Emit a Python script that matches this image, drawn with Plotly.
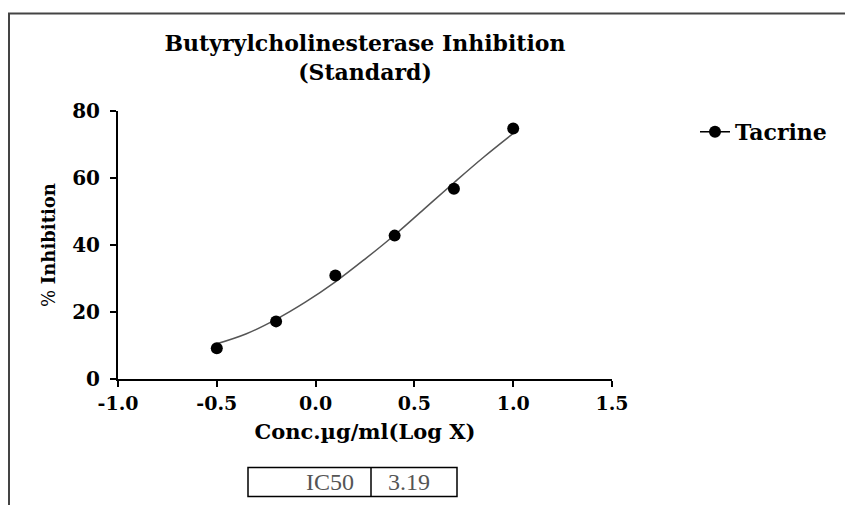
import plotly.graph_objects as go

# ---- data ----
conc_log = [-0.5, -0.2, 0.1, 0.4, 0.7, 1.0]
inhibition = [9.2, 17.2, 30.9, 42.8, 56.8, 74.8]

fit_x = [-0.5, -0.35, -0.2, -0.05, 0.1, 0.25, 0.4, 0.55, 0.7, 0.85, 1.0]
fit_y = [10.5, 13.5, 17.8, 23.0, 29.0, 35.8, 43.0, 50.8, 58.6, 66.2, 73.3]

x_tickvals = [-1.0, -0.5, 0.0, 0.5, 1.0, 1.5]
x_ticktext = ["-1.0", "-0.5", "0.0", "0.5", "1.0", "1.5"]
y_tickvals = [0, 20, 40, 60, 80]

series_name = "Tacrine"
ic50_label = "IC50"
ic50_value = "3.19"

BOLD = "DejaVu Serif"
SERIF = "Liberation Serif"

fig = go.Figure()

fig.add_trace(go.Scatter(
    x=fit_x, y=fit_y, mode="lines", line=dict(color="#555555", width=1.5, shape="spline"),
    showlegend=False, legendgroup="t", hoverinfo="skip"))
fig.add_trace(go.Scatter(
    x=conc_log, y=inhibition, mode="markers",
    marker=dict(color="black", size=12), showlegend=False, legendgroup="t"))
# legend entry (symbol + line as in reference)
fig.add_trace(go.Scatter(
    x=[None], y=[None], mode="lines+markers", name=series_name,
    line=dict(color="black", width=1.5), marker=dict(color="black", size=12),
    legendgroup="t"))

OFF = 8  # page body margin
W, H = 853 - OFF, 505 - OFF
# plot area in screen pixels: x 118..612, y 111..379.3
L = 118 - OFF
T = 111 - OFF
R = W - (612 - OFF)
B = H - (379.3 - OFF)
pw, ph = W - L - R, H - T - B


def px(xs):
    return (xs - OFF - L) / pw


def py(ys):
    return (H - B - (ys - OFF)) / ph


fig.update_layout(
    width=W, height=H,
    margin=dict(l=L, r=R, t=T, b=B),
    paper_bgcolor="white", plot_bgcolor="white",
    title=dict(text="Butyrylcholinesterase Inhibition<br>(Standard)",
               x=0.5, xref="paper", xanchor="center",
               y=1 - 43 / H, yref="container", yanchor="top",
               font=dict(family=BOLD, size=22, color="black", weight="bold")),
    legend=dict(x=px(695), y=py(132), xanchor="left", yanchor="middle",
                font=dict(family=BOLD, size=22, color="black", weight="bold"),
                bgcolor="rgba(0,0,0,0)"),
    showlegend=True,
    xaxis=dict(range=[-1, 1.5], tickvals=x_tickvals, ticktext=x_ticktext,
               showgrid=False, zeroline=False, showline=True, linecolor="black", linewidth=2,
               ticks="outside", ticklen=6, tickwidth=2, tickcolor="black",
               tickfont=dict(family=BOLD, size=19, color="black", weight="bold"),
               title=dict(text="Conc.µg/ml(Log X)", standoff=12,
                          font=dict(family=BOLD, size=21, color="black", weight="bold"))),
    yaxis=dict(range=[0, 80], tickvals=y_tickvals,
               showgrid=False, zeroline=False, showline=True, linecolor="black", linewidth=2,
               ticks="outside", ticklen=6, tickwidth=2, tickcolor="black",
               ticklabelstandoff=6,
               tickfont=dict(family=BOLD, size=20, color="black", weight="bold"),
               title=dict(text="% <b>Inhibition</b>", standoff=12,
                          font=dict(family=BOLD, size=18, color="black"))),
)

shapes = [
    # outer frame
    dict(type="rect", xref="paper", yref="paper", x0=px(9), x1=px(870), y0=py(530), y1=py(13.3),
         line=dict(color="#444444", width=2), fillcolor="rgba(0,0,0,0)", layer="below"),
    # IC50 table
    dict(type="rect", xref="paper", yref="paper", x0=px(248), x1=px(457), y0=py(497), y1=py(468),
         line=dict(color="black", width=1.5)),
    dict(type="line", xref="paper", yref="paper", x0=px(371), x1=px(371), y0=py(497), y1=py(468),
         line=dict(color="black", width=1.5)),
]
fig.update_layout(shapes=shapes)

fig.add_annotation(x=px(356), y=py(482.5), xref="paper", yref="paper", text=ic50_label,
                   showarrow=False, xanchor="right", yanchor="middle",
                   font=dict(family=SERIF, size=24, color="#555555"))
fig.add_annotation(x=px(386), y=py(482.5), xref="paper", yref="paper", text=ic50_value,
                   showarrow=False, xanchor="left", yanchor="middle",
                   font=dict(family=SERIF, size=24, color="#555555"))

fig.write_html("out.html")
